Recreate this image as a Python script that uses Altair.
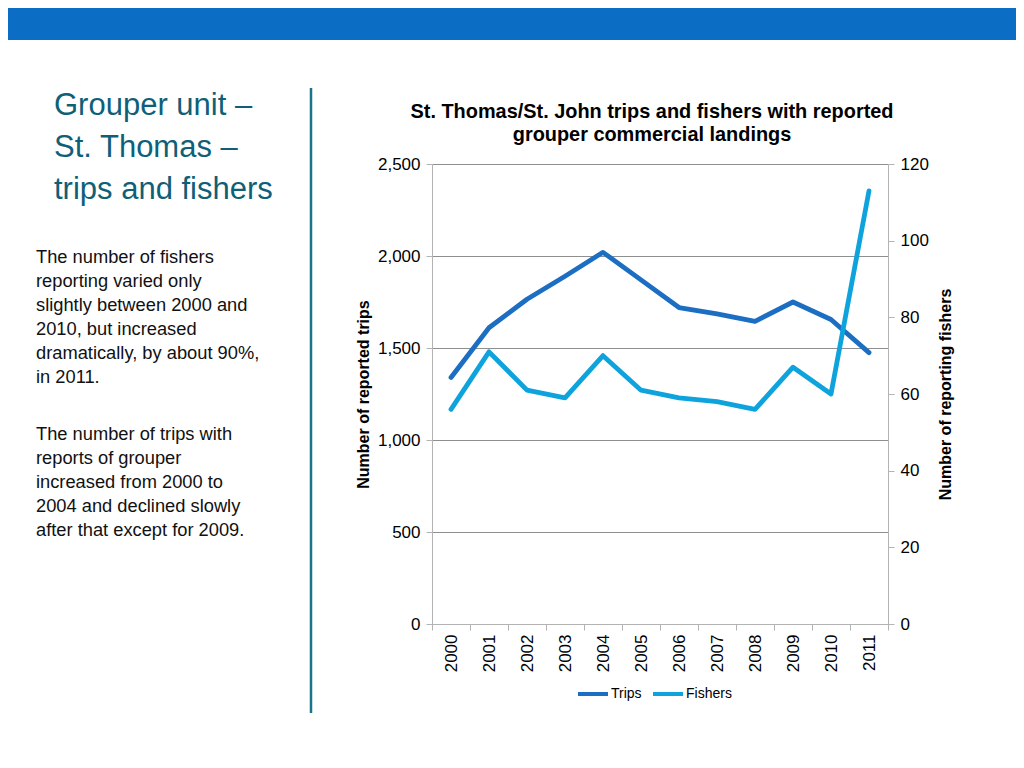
import altair as alt
import pandas as pd

years = [str(y) for y in range(2000, 2012)]
trips = [1340, 1610, 1765, 1890, 2020, 1870, 1720, 1685, 1645, 1750, 1655, 1475]
fishers = [56, 71, 61, 59, 70, 61, 59, 58, 56, 67, 60, 113]
series_names = ["Trips", "Fishers"]
series_colors = ["#1b6ec2", "#0ea3dc"]

left_ticks = [0, 500, 1000, 1500, 2000, 2500]
right_ticks = [0, 20, 40, 60, 80, 100, 120]

chart_title = ["St. Thomas/St. John trips and fishers with reported",
               "grouper commercial landings"]
slide_title = ["Grouper unit \u2013", "St. Thomas \u2013", "trips and fishers"]
para1 = ["The number of fishers", "reporting varied only",
         "slightly between 2000 and", "2010, but increased",
         "dramatically, by about 90%,", "in 2011."]
para2 = ["\u00a0The number of trips with", "reports of grouper",
         "increased from 2000 to", "2004 and declined slowly",
         "after that except for 2009."]

df = pd.DataFrame({
    "Year": years * 2,
    "Series": ["Trips"] * len(years) + ["Fishers"] * len(years),
    "Value": trips + fishers,
})
dummy = pd.DataFrame({"k": [0]})

AX_GREY = "#b3b3b3"
GRID_GREY = "#8f8f8f"
FONT = "Liberation Sans, Arial, Helvetica, sans-serif"

x_axis = alt.Axis(title=None, labelAngle=270, labelFontSize=17, labelColor="#000",
                  tickBand="extent", tickSize=6, tickColor=AX_GREY,
                  domainColor=AX_GREY, labelPadding=4, grid=False)

color = alt.Color("Series:N",
                  scale=alt.Scale(domain=series_names, range=series_colors),
                  legend=alt.Legend(orient="none", legendX=144, legendY=513,
                                    direction="horizontal", title=None,
                                    symbolType="stroke", symbolStrokeWidth=4,
                                    symbolSize=900, labelFontSize=14,
                                    labelColor="#000", labelOffset=1,
                                    columnPadding=3))

trips_line = alt.Chart(df).transform_filter(alt.datum.Series == "Trips").mark_line(
    strokeWidth=4.8, strokeCap="round", strokeJoin="round").encode(
    x=alt.X("Year:O", axis=x_axis, scale=alt.Scale(paddingInner=0, paddingOuter=0)),
    y=alt.Y("Value:Q", scale=alt.Scale(domain=[0, 2500]),
            axis=alt.Axis(orient="left", values=left_ticks, format=",.0f",
                          title="Number of reported trips", titleFontSize=16,
                          titleFontWeight="bold", titleColor="#000",
                          titlePadding=6,
                          labelFontSize=17, labelColor="#000", labelPadding=6,
                          tickSize=6, tickColor=AX_GREY, domainColor=AX_GREY,
                          gridColor=GRID_GREY, grid=True)),
    color=color,
)

fishers_line = alt.Chart(df).transform_filter(alt.datum.Series == "Fishers").mark_line(
    strokeWidth=4.8, strokeCap="round", strokeJoin="round").encode(
    x=alt.X("Year:O", axis=x_axis, scale=alt.Scale(paddingInner=0, paddingOuter=0)),
    y=alt.Y("Value:Q", scale=alt.Scale(domain=[0, 120]),
            axis=alt.Axis(orient="right", values=right_ticks,
                          title="Number of reporting fishers", titleFontSize=16,
                          titleFontWeight="bold", titleColor="#000",
                          titleAngle=270, titlePadding=25,
                          labelFontSize=17, labelColor="#000", labelPadding=6,
                          tickSize=6, tickColor=AX_GREY, domainColor=AX_GREY,
                          grid=False)),
    color=color,
)

banner = alt.Chart(dummy).mark_rect(color="#0c6dc4").encode(
    x=alt.value(-424), x2=alt.value(584), y=alt.value(-156), y2=alt.value(-124))

divider = alt.Chart(dummy).mark_rule(color="#1b7489", strokeWidth=2.5).encode(
    x=alt.value(-121), y=alt.value(-76), y2=alt.value(549))

title_text = alt.Chart(dummy).mark_text(
    align="center", baseline="alphabetic", fontSize=19.9, fontWeight="bold",
    color="#000", lineHeight=23, font=FONT).encode(
    x=alt.value(220), y=alt.value(-46), text=alt.value(chart_title))

slide_title_text = alt.Chart(dummy).mark_text(
    align="left", baseline="alphabetic", fontSize=31, color="#0f5f78",
    lineHeight=42, font=FONT).encode(
    x=alt.value(-378), y=alt.value(-49), text=alt.value(slide_title))

p1 = alt.Chart(dummy).mark_text(
    align="left", baseline="alphabetic", fontSize=18.3, color="#111",
    lineHeight=24, font=FONT).encode(
    x=alt.value(-396), y=alt.value(99), text=alt.value(para1))

p2 = alt.Chart(dummy).mark_text(
    align="left", baseline="alphabetic", fontSize=18.3, color="#111",
    lineHeight=24, font=FONT).encode(
    x=alt.value(-396), y=alt.value(276), text=alt.value(para2))

chart = alt.layer(
    trips_line, fishers_line, banner, divider, title_text, slide_title_text, p1, p2
).resolve_scale(y="independent").properties(
    width=456, height=460, padding=0
).configure(font=FONT).configure_view(stroke=None)

chart.save("out.html", embed_options={"renderer": "svg", "actions": False})
